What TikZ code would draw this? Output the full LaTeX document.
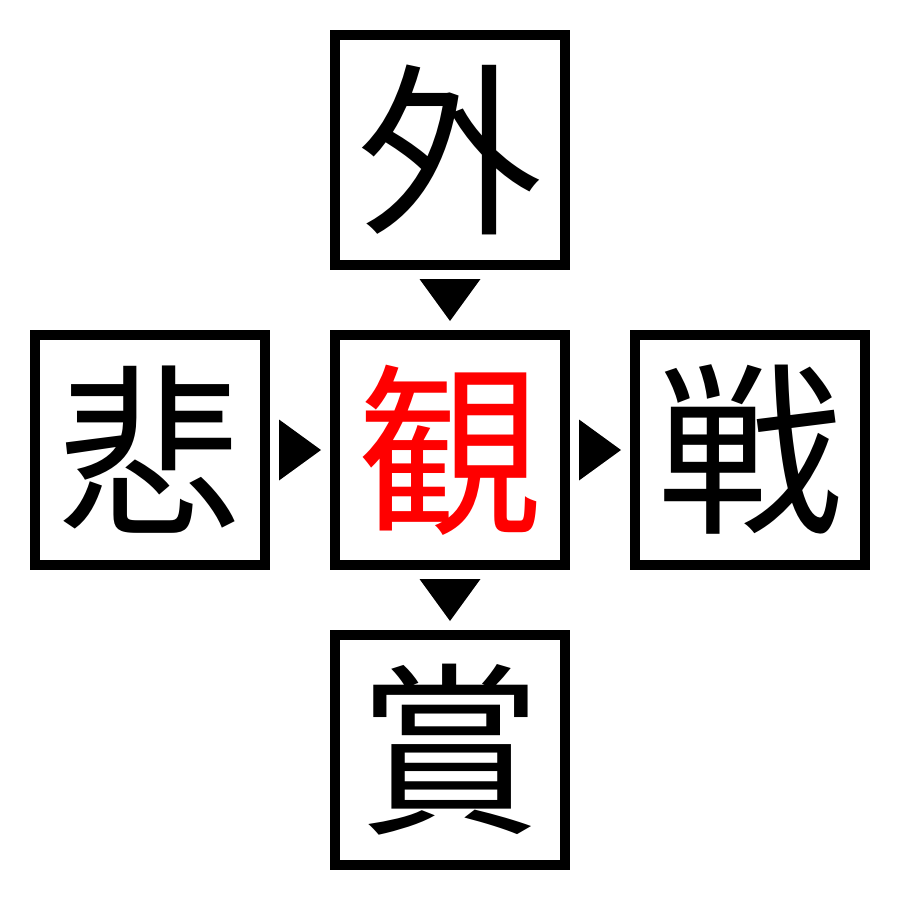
\documentclass[tikz,border=0pt]{standalone}
\usepackage{fontspec}
\newfontfamily\cjk{Noto Sans CJK JP}
\begin{document}
\begin{tikzpicture}[x=1pt,y=-1pt,
  cell/.style={draw=black,line width=10pt,minimum size=230pt,inner sep=0pt,outer sep=5pt,
    font=\cjk\fontsize{185}{185}\selectfont,text=black},
  hot/.style={cell,text=red},
  tri/.style={fill=black,draw=none}]
\useasboundingbox (0,0) rectangle (900,900);
\node[cell] (top) at (450,150) {外};
\node[cell] (left) at (150,450) {悲};
\node[hot] (mid) at (450,450) {観};
\node[cell] (right) at (750,450) {戦};
\node[cell] (bot) at (450,750) {賞};
\path (top.south) -- (mid.north) coordinate[midway] (t1);
\path (left.east) -- (mid.west) coordinate[midway] (t2);
\path (mid.east) -- (right.west) coordinate[midway] (t3);
\path (mid.south) -- (bot.north) coordinate[midway] (t4);
\fill[tri] ([xshift=-30.5pt,yshift=21pt]t1) -- ([xshift=30.5pt,yshift=21pt]t1) -- ([yshift=-21pt]t1) -- cycle;
\fill[tri] ([xshift=-30.5pt,yshift=21pt]t4) -- ([xshift=30.5pt,yshift=21pt]t4) -- ([yshift=-21pt]t4) -- cycle;
\fill[tri] ([xshift=-21pt,yshift=-30.5pt]t2) -- ([xshift=-21pt,yshift=30.5pt]t2) -- ([xshift=21pt]t2) -- cycle;
\fill[tri] ([xshift=-21pt,yshift=-30.5pt]t3) -- ([xshift=-21pt,yshift=30.5pt]t3) -- ([xshift=21pt]t3) -- cycle;
\end{tikzpicture}
\end{document}
